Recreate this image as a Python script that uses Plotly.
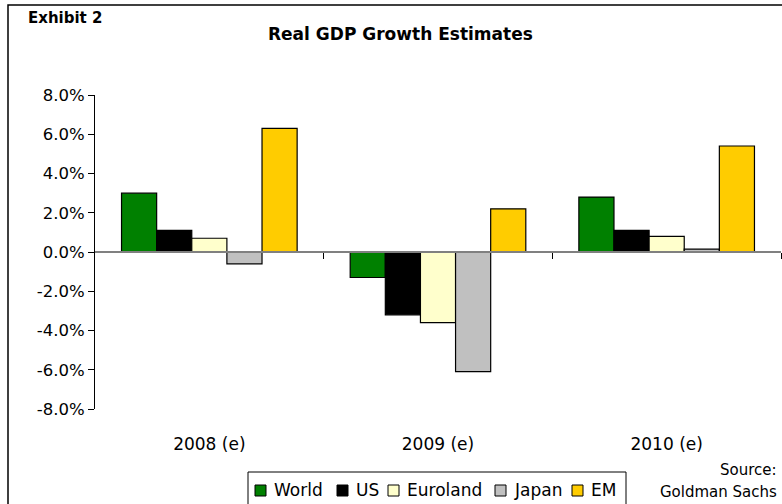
import plotly.graph_objects as go

categories = ["2008 (e)", "2009 (e)", "2010 (e)"]
series_names = ["World", "US", "Euroland", "Japan", "EM"]
world = [3.0, -1.3, 2.8]
us = [1.1, -3.2, 1.1]
euroland = [0.7, -3.6, 0.8]
japan = [-0.6, -6.1, 0.15]
em = [6.3, 2.2, 5.4]
colors = ["#008000", "#000000", "#FFFFCC", "#C0C0C0", "#FFCC00"]
y_tick_vals = [-8, -6, -4, -2, 0, 2, 4, 6, 8]
y_tick_text = ["-8.0%", "-6.0%", "-4.0%", "-2.0%", "0.0%", "2.0%", "4.0%", "6.0%", "8.0%"]

W, H = 782, 504
ml, mr, mt, mb = 95, 1, 95, 95
pw = W - ml - mr
ph = H - mt - mb

def px(x):
    return (x - ml) / pw

def py(y):
    return (H - mb - y) / ph

fig = go.Figure()
for name, vals, col in zip(series_names, [world, us, euroland, japan, em], colors):
    fig.add_trace(go.Bar(x=categories, y=vals, name=name,
                         marker=dict(color=col, line=dict(color="#000000", width=1.2))))

# invisible trace for the boundary-tick axis (zero line with category ticks)
fig.add_trace(go.Scatter(x=[0], y=[0], xaxis="x2", mode="markers",
                         marker=dict(opacity=0), showlegend=False, hoverinfo="skip"))

# manual legend (layout positions in pixels)
legend_swatch_x = [255, 337, 388, 495, 572]
shapes = [dict(type="rect", xref="paper", yref="paper", x0=px(8), x1=px(800),
               y0=py(520), y1=py(5), line=dict(color="#000000", width=1.5),
               fillcolor="rgba(0,0,0,0)", layer="below"),
          dict(type="rect", xref="paper", yref="paper", x0=px(248), x1=px(626),
               y0=py(520), y1=py(472), line=dict(color="#000000", width=1),
               fillcolor="white", layer="below")]
annotations = []
for name, col, sx in zip(series_names, colors, legend_swatch_x):
    shapes.append(dict(type="rect", xref="paper", yref="paper", x0=px(sx), x1=px(sx + 11),
                       y0=py(496), y1=py(485), line=dict(color="#000000", width=1),
                       fillcolor=col))
    annotations.append(dict(text=name, xref="paper", yref="paper", x=px(sx + 17), y=py(490),
                            xanchor="left", yanchor="middle", showarrow=False,
                            font=dict(family="DejaVu Sans", size=17)))

annotations += [
    dict(text="<b>Exhibit 2</b>", xref="paper", yref="paper", x=px(26), y=py(18),
         xanchor="left", yanchor="middle", showarrow=False,
         font=dict(family="DejaVu Sans", size=15)),
    dict(text="<b>Real GDP Growth Estimates</b>", xref="paper", yref="paper",
         x=px(400), y=py(34), xanchor="center", yanchor="middle", showarrow=False,
         font=dict(family="DejaVu Sans", size=17)),
    dict(text="Source:", xref="paper", yref="paper", x=px(779), y=py(470),
         xanchor="right", yanchor="middle", showarrow=False,
         font=dict(family="DejaVu Sans", size=15)),
    dict(text="Goldman Sachs", xref="paper", yref="paper", x=px(779), y=py(492),
         xanchor="right", yanchor="middle", showarrow=False,
         font=dict(family="DejaVu Sans", size=15)),
]

fig.update_layout(
    width=W, height=H,
    margin=dict(l=ml, r=mr, t=mt, b=mb, autoexpand=False),
    paper_bgcolor="white", plot_bgcolor="white",
    barmode="group", bargap=0.232, bargroupgap=0,
    font=dict(family="DejaVu Sans", size=16, color="#000000"),
    showlegend=False,
    xaxis=dict(type="category", range=[-0.5, 2.5], showline=False, showgrid=False,
               zeroline=False, ticks="outside", ticklen=20, tickcolor="rgba(0,0,0,0)",
               tickfont=dict(family="DejaVu Sans", size=17)),
    xaxis2=dict(overlaying="x", anchor="free", position=0.5, range=[-0.5, 2.5],
                tickmode="array", tickvals=[0.5, 1.5, 2.5], ticks="outside", ticklen=6,
                tickcolor="#000000", showticklabels=False, showline=True,
                linecolor="#808080", linewidth=1.5, showgrid=False, zeroline=False,
                side="bottom"),
    yaxis=dict(range=[-8, 8], tickmode="array", tickvals=y_tick_vals, ticktext=y_tick_text,
               showline=True, linecolor="#000000", linewidth=1, ticks="outside",
               ticklen=6, tickcolor="#000000", showgrid=False, zeroline=False,
               tickfont=dict(family="DejaVu Sans", size=16.5)),
    shapes=shapes,
    annotations=annotations,
)

fig.write_html("out.html")
